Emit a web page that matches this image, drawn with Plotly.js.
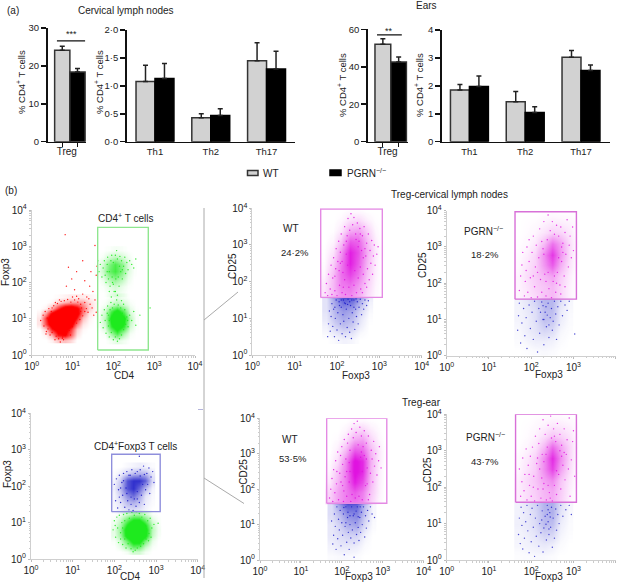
<!DOCTYPE html>
<html><head><meta charset="utf-8">
<script src="https://cdn.plot.ly/plotly-3.0.1.min.js"></script>
<style>html,body{margin:0;padding:0;background:#fff}</style></head>
<body><div id="chart"></div>
<script>
// ---- bar data ----
const thCats=["Th1","Th2","Th17"];
const cervTregMean=[24.1,18.4], cervTregErr=[1.1,0.9];
const cervThWT=[1.08,0.43,1.45], cervThWTErr=[0.29,0.07,0.32];
const cervThKO=[1.13,0.47,1.30], cervThKOErr=[0.27,0.12,0.32];
const earTregMean=[52,42.5], earTregErr=[3,2.7];
const earThWT=[1.85,1.43,3.02], earThWTErr=[0.2,0.37,0.25];
const earThKO=[1.98,1.05,2.55], earThKOErr=[0.37,0.2,0.2];
const decadeVals=[1,10,100,1000,10000];
const decadeText=["10<sup>0</sup>","10<sup>1</sup>","10<sup>2</sup>","10<sup>3</sup>","10<sup>4</sup>"];
// ---- flow panels: estimated [log10 x, log10 y] events ----
const c1RedDots=[[.22,.95],[.28,1.1],[.3,.8],[.33,1.2],[.36,.65],[.38,1.02],[.42,1.28],[.45,.55],[.48,1.2],[.5,.62],[.54,1.36],[.57,.42],[.6,.52],[.63,1.42],[.66,.45],[.7,.36],[.72,1.48],[.76,.5],[.78,.42],[.8,1.5],[.85,.58],[.88,1.53],[.92,.68],[.96,1.46],[1,.78],[1.05,1.52],[1.1,.88],[1.13,1.46],[1.18,.98],[1.2,1.4],[1.25,1.08],[1.3,1.45],[1.34,1.28],[1.38,1.18],[1.43,1.4],[1.48,1.3],[1.55,1.52],[1.58,1.18],[1.25,1.68],[1.05,1.8],[.85,1.9],[1.3,2.05],[.98,2.1],[1.42,1.9],[1.5,1.75],[1.58,2.2],[1.6,2.45],[1.45,2.3],[1.35,1.6],[1.1,2.3],[.9,2.42],[1.25,2.6],[1.55,3.02],[.82,3.32],[1.22,1.3],[1.15,1.55],[1.3,1.2],[1.1,1.62],[.35,.58],[.6,.7],[.5,1.3],[.4,.72],[1.4,1.55],[1.2,1.2],[1.52,1.1],[.75,.46],[.95,.55],[.68,1.52],[.58,1.45],[1.0,1.6]];
const c1GreenHiDots=[[1.65,2.3],[1.68,2.5],[1.72,2.15],[1.75,2.4],[1.78,2.6],[1.8,2.2],[1.82,2.0],[1.85,2.5],[1.86,2.7],[1.88,2.1],[1.9,2.3],[1.92,1.9],[1.94,2.6],[1.96,2.75],[1.97,2.15],[2,2.55],[2,1.95],[2.02,1.75],[2.05,2.75],[2.06,2.1],[2.08,2.88],[2.1,2.65],[2.12,2.15],[2.14,1.9],[2.16,2.72],[2.18,2.3],[2.2,2.6],[2.22,2.1],[2.25,2.45],[2.28,2.7],[2.3,2.25],[2.33,2.55],[2.36,2.35],[2.4,2.6],[2.45,2.5],[2.5,2.4],[2.55,2.65],[1.62,2.6],[1.9,1.75],[2.1,1.65],[1.98,2.0],[2.15,2.45],[2.22,2.35],[1.85,2.3]];
const c1GreenLoDots=[[1.68,.9],[1.72,1.1],[1.75,.75],[1.78,1.25],[1.8,.95],[1.82,.6],[1.85,1.15],[1.86,1.35],[1.88,.8],[1.9,.5],[1.92,1.25],[1.94,1.45],[1.95,.62],[1.98,1.3],[2,.42],[2.02,1.4],[2.05,.5],[2.08,1.52],[2.1,.38],[2.12,1.38],[2.15,.45],[2.18,1.3],[2.2,.55],[2.22,1.15],[2.25,.7],[2.28,1.25],[2.3,.85],[2.33,1.05],[2.36,.78],[2.4,1.1],[2.45,.95],[2.5,1.2],[2.55,.82],[2.65,1.1],[1.95,1.6],[2.05,1.75],[2.2,1.5],[1.9,.95],[1.88,1.1],[2.28,1.0],[2.35,.95],[2.25,1.4],[2.9,1.3]];
const c2BlueDots=[[2.0,2.05],[2.03,1.6],[2.05,2.2],[2.08,1.4],[2.1,1.9],[2.12,2.3],[2.15,1.55],[2.18,2.1],[2.2,1.75],[2.22,2.35],[2.25,1.42],[2.28,1.95],[2.3,2.4],[2.32,1.6],[2.35,1.35],[2.38,2.3],[2.4,1.5],[2.42,2.45],[2.45,1.33],[2.48,1.65],[2.5,2.35],[2.52,1.45],[2.55,1.85],[2.55,2.4],[2.6,1.55],[2.62,2.45],[2.65,1.75],[2.68,2.05],[2.7,2.55],[2.72,1.5],[2.75,1.9],[2.78,2.35],[2.8,2.05],[2.83,2.5],[2.85,1.8],[2.88,2.25],[2.92,2.4],[2.95,2.1],[2.6,2.82],[2.4,1.7],[2.3,1.8],[2.55,1.65],[2.62,2.28],[2.15,1.95],[2.22,2.15],[2.35,2.3],[2.12,1.7],[2.72,2.32]];
const c2GreenDots=[[1.97,.8],[2.0,1.05],[2.03,.6],[2.06,1.15],[2.08,.85],[2.1,.45],[2.12,1.2],[2.15,.72],[2.18,1.0],[2.2,.4],[2.22,1.22],[2.25,.55],[2.28,.3],[2.3,1.25],[2.33,.42],[2.36,1.12],[2.4,.28],[2.42,1.28],[2.45,.2],[2.48,1.2],[2.5,.24],[2.53,1.3],[2.55,.3],[2.6,1.25],[2.63,.35],[2.66,1.15],[2.7,.42],[2.73,1.22],[2.76,.55],[2.8,1.05],[2.83,.7],[2.86,1.12],[2.9,.85],[2.95,.95],[3.05,.98],[2.82,.5],[2.2,.85],[2.25,1.05],[2.75,.9],[2.15,.55],[2.88,.6],[2.02,.92]];
const c3MagDots=[[1.72,1.7],[1.75,1.95],[1.78,1.62],[1.8,2.2],[1.84,1.8],[1.86,2.45],[1.88,1.65],[1.9,2.1],[1.92,2.65],[1.95,1.75],[1.97,2.35],[1.98,2.9],[2,1.62],[2.02,2.55],[2.04,3.1],[2.06,1.9],[2.08,2.8],[2.1,3.3],[2.12,1.7],[2.14,2.25],[2.16,3.0],[2.18,3.5],[2.2,1.65],[2.22,2.75],[2.24,3.25],[2.26,3.72],[2.28,1.85],[2.3,3.4],[2.33,3.85],[2.35,1.62],[2.37,3.55],[2.4,3.75],[2.42,2.3],[2.44,3.3],[2.46,1.7],[2.48,3.6],[2.5,2.1],[2.52,3.1],[2.54,3.45],[2.56,1.8],[2.58,2.85],[2.6,3.25],[2.62,2.2],[2.64,3.5],[2.66,1.95],[2.68,2.7],[2.7,3.05],[2.72,2.35],[2.74,3.3],[2.76,2.05],[2.78,2.85],[2.8,2.5],[2.82,3.12],[2.84,2.2],[2.86,2.7],[2.88,3.0],[2.9,2.45],[2.94,2.75],[2.97,2.95],[2.6,1.7],[2.7,1.85],[1.95,2.15],[2.05,2.3],[2.12,2.55],[2.18,2.05],[2.55,2.4],[2.62,2.65],[2.5,2.95],[2.45,3.15],[2.15,1.85],[2.25,2.45],[2.4,1.9],[2.55,3.3],[2.22,3.1],[2.08,2.5],[2.66,2.9]];
const c3BlueDots=[[1.78,.5],[1.8,.85],[1.82,1.2],[1.84,.65],[1.86,1.05],[1.88,1.4],[1.9,.78],[1.92,1.25],[1.94,.5],[1.96,1.0],[1.98,1.5],[2,.68],[2.02,1.15],[2.04,.4],[2.06,1.35],[2.08,.85],[2.1,1.5],[2.12,.58],[2.14,1.1],[2.16,.92],[2.18,1.42],[2.2,.5],[2.22,1.25],[2.24,.75],[2.26,1.52],[2.28,1.0],[2.3,.62],[2.32,1.35],[2.34,.45],[2.36,1.15],[2.38,.9],[2.4,1.5],[2.42,.7],[2.44,1.25],[2.46,1.05],[2.48,1.45],[2.5,.85],[2.52,1.3],[2.55,1.52],[2.58,1.1],[2.6,1.4],[2.63,1.25],[2.66,1.5],[2.7,1.35],[2.74,1.48],[2.2,1.4],[2.1,1.3],[2.3,1.45],[2.15,1.5],[2.25,1.38],[2.05,1.45],[1.95,1.3],[2.35,1.5],[2.4,1.3],[2.45,1.53]];
const c4MagDots=[[1.72,1.8],[1.75,2.2],[1.78,2.5],[1.8,2.85],[1.84,1.65],[1.86,2.05],[1.88,2.35],[1.9,3.0],[1.92,1.75],[1.95,2.6],[1.98,2.15],[2,1.6],[2.02,2.85],[2.05,3.3],[2.08,1.9],[2.1,2.45],[2.12,3.05],[2.15,1.62],[2.18,2.7],[2.2,3.5],[2.22,2.1],[2.25,1.75],[2.28,2.95],[2.3,3.7],[2.32,2.25],[2.35,1.65],[2.38,3.2],[2.4,3.88],[2.42,1.85],[2.45,3.45],[2.48,1.6],[2.5,3.7],[2.52,2.05],[2.55,3.35],[2.58,1.75],[2.6,3.6],[2.62,2.3],[2.65,3.3],[2.68,1.95],[2.7,3.55],[2.72,2.6],[2.75,3.1],[2.78,2.2],[2.8,3.4],[2.82,2.8],[2.85,3.75],[2.88,2.45],[2.9,3.05],[2.92,3.3],[2.95,2.7],[2.98,3.55],[3.0,2.9],[2.7,1.7],[2.8,1.9],[2.6,2.0],[2.3,2.8],[2.35,2.05],[2.15,2.3],[2.65,2.7],[2.75,2.85],[1.95,3.2],[2.25,3.15],[2.55,2.2],[2.05,2.2],[2.72,3.0],[2.4,2.3]];
const c4BlueDots=[[1.68,.7],[1.7,1.1],[1.72,1.45],[1.75,.35],[1.78,.9],[1.82,1.3],[1.85,.55],[1.88,1.05],[1.9,.2],[1.95,1.4],[1.98,.75],[2.02,1.2],[2.05,.45],[2.08,1.5],[2.12,.95],[2.15,.1],[2.18,1.3],[2.2,.62],[2.25,1.48],[2.28,1.0],[2.3,.3],[2.33,1.2],[2.36,.8],[2.4,1.45],[2.42,.5],[2.45,1.05],[2.48,1.3],[2.5,.7],[2.52,.95],[2.55,1.5],[2.58,1.15],[2.6,.45],[2.63,1.35],[2.66,.85],[2.7,1.5],[2.74,1.1],[2.8,1.4],[2.85,1.25],[2.9,1.5],[2.35,1.35],[2.3,1.0],[2.42,.85],[2.22,1.2],[3.03,.6],[2.38,1.12],[2.28,1.38]];
const c5MagDots=[[1.7,1.75],[1.73,2.0],[1.76,2.3],[1.78,1.65],[1.8,2.55],[1.83,1.9],[1.85,2.8],[1.87,2.15],[1.9,3.05],[1.92,1.7],[1.95,2.45],[1.97,2.95],[2,3.2],[2.02,2.1],[2.04,1.65],[2.06,3.4],[2.1,2.85],[2.12,1.8],[2.14,3.3],[2.16,3.55],[2.2,3.1],[2.22,1.65],[2.24,3.7],[2.28,3.45],[2.3,3.85],[2.33,1.75],[2.35,3.6],[2.38,3.92],[2.4,3.25],[2.44,3.75],[2.48,3.5],[2.5,1.7],[2.52,3.2],[2.55,3.65],[2.58,2.1],[2.6,3.3],[2.62,2.6],[2.65,3.5],[2.68,1.85],[2.7,2.45],[2.72,3.1],[2.74,2.85],[2.76,2.2],[2.78,3.35],[2.8,2.65],[2.83,3.0],[2.86,2.4],[2.9,2.8],[2.92,3.2],[2.96,2.6],[2.65,1.7],[1.88,2.5],[2.02,2.7],[2.08,2.35],[2.18,2.2],[2.18,2.75],[2.46,2.9],[2.5,2.5],[2.55,2.95],[2.62,2.15],[2.12,2.5],[2.25,1.85],[2.42,1.8],[2.2,2.5],[2.6,2.85],[1.98,2.2],[2.05,1.95],[2.48,3.05]];
const c5BlueDots=[[1.75,1.1],[1.78,.45],[1.8,.7],[1.82,1.3],[1.84,.95],[1.86,.3],[1.88,1.5],[1.9,.6],[1.92,1.15],[1.94,.85],[1.96,1.4],[1.98,.4],[2,1.05],[2.02,.7],[2.04,1.3],[2.06,.15],[2.08,.95],[2.1,1.5],[2.12,.5],[2.14,1.2],[2.16,.78],[2.18,.3],[2.2,1.0],[2.22,.62],[2.24,1.5],[2.26,.85],[2.28,1.25],[2.3,.48],[2.33,1.05],[2.36,.72],[2.38,1.5],[2.4,.92],[2.42,.55],[2.44,1.2],[2.46,.78],[2.48,1.35],[2.5,1.0],[2.53,1.5],[2.56,.65],[2.58,1.25],[2.6,.9],[2.63,1.4],[2.66,1.1],[2.7,1.5],[2.74,1.3],[2.8,1.2],[2.3,.08],[2.15,1.35],[2.3,1.3],[2.35,1.38],[2.2,1.25],[2.4,1.22],[2.1,1.05],[2.45,1.5],[2.05,1.48]];
const c6MagDots=[[1.72,2.5],[1.75,1.75],[1.78,2.15],[1.8,2.8],[1.83,1.9],[1.85,2.35],[1.88,3.05],[1.9,1.65],[1.93,2.6],[1.96,2.05],[1.98,2.85],[2,1.75],[2.03,3.1],[2.06,2.3],[2.08,1.62],[2.1,3.4],[2.13,2.65],[2.16,1.95],[2.18,3.2],[2.2,3.6],[2.23,1.7],[2.26,2.9],[2.28,3.85],[2.3,2.1],[2.33,3.45],[2.36,1.65],[2.38,3.1],[2.4,3.7],[2.43,1.85],[2.46,3.95],[2.48,3.35],[2.5,1.62],[2.53,3.6],[2.55,2.05],[2.58,3.25],[2.6,1.8],[2.62,3.75],[2.65,2.35],[2.68,3.45],[2.7,1.95],[2.72,3.15],[2.75,2.6],[2.78,3.6],[2.8,2.2],[2.83,2.9],[2.85,3.3],[2.88,2.5],[2.9,3.9],[2.92,1.75],[2.95,2.75],[2.98,3.25],[3.0,3.55],[3.03,2.3],[2.2,2.5],[2.3,2.7],[2.05,2.0],[2.6,2.45],[2.72,2.85],[2.35,2.9],[2.15,2.8],[2.4,2.05],[2.68,3.0],[2.78,2.95],[2.55,3.4],[1.95,2.35],[2.25,2.25],[2.45,1.7],[2.28,1.95]];
const c6BlueDots=[[1.7,.7],[1.72,1.15],[1.74,.45],[1.76,1.45],[1.78,.95],[1.8,.3],[1.82,1.3],[1.84,.6],[1.87,1.05],[1.9,1.5],[1.92,.8],[1.95,.2],[1.98,1.25],[2,.5],[2.02,1.42],[2.05,.9],[2.08,.1],[2.1,1.15],[2.12,.65],[2.15,1.5],[2.18,.38],[2.2,1.0],[2.23,.75],[2.26,1.35],[2.28,.22],[2.3,.88],[2.33,1.2],[2.36,.55],[2.38,1.5],[2.4,1.05],[2.42,.7],[2.44,1.3],[2.46,.9],[2.48,1.45],[2.5,.35],[2.52,1.15],[2.55,.6],[2.58,1.4],[2.6,.82],[2.63,1.25],[2.66,1.0],[2.7,1.5],[2.75,1.2],[2.82,1.38],[2.9,1.5],[2.95,1.25],[2.4,1.38],[2.35,.98],[2.45,1.18],[2.38,1.25],[2.25,1.1],[2.42,.85]];
// ---- event density read by eye from each cloud (rows run low to high y) ----
const c1RedGx=[.2,.35,.5,.65,.8,.95,1.1,1.25,1.4,1.55], c1RedGy=[.4,.55,.7,.85,1,1.15,1.3,1.45,1.6];
const c1RedZ=[[0,0,.05,.2,.25,.15,0,0,0,0],[0,.05,.3,.9,1,.6,.1,0,0,0],[0,.2,.9,1.2,1.2,.8,.2,.03,0,0],[.1,.7,1.3,1.5,1.5,1.2,.5,.1,.02,0],[.1,.8,1.5,1.5,1.5,1.5,.9,.25,.05,0],[.05,.4,1.1,1.5,1.5,1.5,1.2,.5,.1,.02],[0,.05,.3,.8,1.3,1.4,1.1,.6,.2,.05],[0,0,.03,.15,.3,.4,.4,.35,.15,.05],[0,0,0,.02,.05,.08,.08,.08,.05,.02]];
const c1HiGx=[1.6,1.75,1.9,2.05,2.2,2.35,2.5], c1HiGy=[1.7,1.9,2.1,2.3,2.5,2.7,2.9];
const c1HiZ=[[0,0,.05,.1,.05,0,0],[0,.03,.12,.2,.1,.02,0],[0,.1,.35,.5,.3,.08,0],[.03,.25,.65,.85,.55,.15,.02],[.02,.2,.55,.8,.5,.15,.02],[0,.05,.2,.3,.2,.07,0],[0,0,.02,.05,.03,0,0]];
const c1LoGx=[1.65,1.8,1.95,2.1,2.25,2.4,2.55], c1LoGy=[.4,.6,.8,1,1.2,1.4,1.6];
const c1LoZ=[[0,0,.05,.12,.05,0,0],[0,.05,.4,.8,.35,.05,0],[.03,.2,.9,1.3,.9,.2,.02],[.05,.3,1.1,1.4,1.1,.3,.03],[.02,.2,.8,1.2,.7,.15,.02],[0,.05,.2,.35,.2,.05,0],[0,0,.05,.1,.05,0,0]];
const c2BlueGx=[2,2.15,2.3,2.45,2.6,2.75,2.9], c2BlueGy=[1.35,1.55,1.75,1.95,2.15,2.35,2.55];
const c2BlueZ=[[.03,.08,.15,.15,.12,.05,0],[.05,.12,.3,.35,.25,.08,.02],[.05,.2,.5,.65,.4,.12,.03],[.08,.3,.75,.9,.65,.3,.05],[.05,.22,.75,.9,.9,.7,.15],[.02,.08,.2,.3,.35,.3,.1],[0,0,.03,.05,.08,.05,.02]];
const c2GreenGx=[2,2.15,2.3,2.45,2.6,2.75,2.9,3.05], c2GreenGy=[.2,.35,.5,.65,.8,.95,1.1,1.25];
const c2GreenZ=[[0,0,.05,.2,.2,.05,0,0],[0,.1,.35,.7,.65,.25,.03,0],[.03,.2,.7,1.2,1.2,.6,.1,0],[.1,.4,1.2,1.5,1.5,1.1,.25,.03],[.12,.45,1.3,1.6,1.6,1.2,.3,.05],[.08,.35,1,1.5,1.5,1,.25,.03],[.03,.2,.6,.9,.9,.55,.12,.02],[0,.05,.2,.35,.35,.2,.03,0]];
const magGx=[1.7,1.9,2.1,2.3,2.5,2.7,2.9,3.05];
const c3MagGy=[1.57,1.6,1.9,2.2,2.5,2.8,3.1,3.4,3.7,3.95];
const c3MagZ=[[.12,.3,.45,.5,.35,.15,.03,0],[.12,.3,.45,.5,.35,.15,.03,0],[.1,.3,.55,.6,.45,.2,.05,0],[.05,.28,.6,.8,.6,.25,.07,0],[.02,.2,.55,.95,.7,.3,.08,0],[.01,.12,.45,.95,.75,.35,.1,.01],[0,.05,.25,.7,.65,.3,.08,0],[0,.01,.1,.35,.4,.2,.04,0],[0,0,.03,.12,.15,.06,.01,0],[0,0,0,.02,.02,0,0,0]];
const c3BlueGx=[1.75,1.95,2.15,2.35,2.55,2.75], c3BlueGy=[.4,.6,.8,1,1.2,1.4,1.55,1.57];
const c3BlueZ=[[0,.03,.06,.04,0,0],[.03,.1,.15,.12,.03,0],[.06,.2,.28,.22,.08,0],[.1,.28,.38,.3,.12,.01],[.12,.33,.45,.38,.18,.03],[.12,.4,.6,.55,.3,.05],[.12,.45,.75,.7,.4,.08],[.12,.45,.75,.7,.4,.08]];
const c4MagGy=[1.56,1.6,1.9,2.2,2.5,2.8,3.1,3.4,3.7,3.95];
const c4MagZ=[[.05,.1,.15,.25,.3,.18,.06,.01],[.05,.1,.15,.25,.3,.18,.06,.01],[.05,.12,.2,.25,.3,.18,.06,.01],[.05,.15,.22,.32,.4,.22,.08,.01],[.03,.12,.2,.45,.7,.35,.12,.02],[.02,.08,.18,.5,.85,.45,.15,.03],[.01,.04,.1,.3,.6,.4,.15,.04],[0,.02,.05,.12,.2,.18,.1,.03],[0,.01,.02,.05,.08,.07,.05,.02],[0,0,0,.01,.02,.01,.01,0]];
const c4BlueGx=[1.7,1.9,2.1,2.3,2.5,2.7,2.9], c4BlueGy=[.1,.4,.7,1,1.3,1.54,1.56];
const c4BlueZ=[[0,.01,.02,.03,.02,0,0],[.02,.05,.08,.08,.06,.02,0],[.03,.08,.12,.18,.15,.04,.01],[.05,.08,.14,.28,.25,.08,.02],[.05,.1,.15,.3,.3,.1,.03],[.06,.12,.2,.32,.32,.15,.04],[.06,.12,.2,.32,.32,.15,.04]];
const c5MagGy=[1.6,1.63,1.9,2.2,2.5,2.8,3.1,3.4,3.7,3.95];
const c5MagZ=[[.2,.4,.55,.6,.5,.2,.05,0],[.2,.4,.55,.6,.5,.2,.05,0],[.18,.4,.55,.7,.55,.25,.07,0],[.1,.32,.55,.95,.75,.3,.08,0],[.05,.25,.55,1.05,.9,.32,.08,0],[.02,.15,.5,1.05,.9,.35,.1,.01],[0,.08,.3,.7,.65,.3,.1,.01],[0,.02,.12,.35,.4,.18,.05,0],[0,0,.04,.15,.18,.08,.02,0],[0,0,0,.03,.03,.01,0,0]];
const c5BlueGx=[1.75,1.95,2.15,2.35,2.55,2.75], c5BlueGy=[.1,.4,.7,1,1.3,1.58,1.6];
const c5BlueZ=[[.02,.03,.03,.02,0,0],[.06,.1,.1,.08,.02,0],[.1,.15,.2,.2,.06,0],[.1,.2,.35,.4,.15,.02],[.15,.3,.5,.55,.25,.04],[.15,.45,.75,.7,.3,.04],[.15,.45,.75,.7,.3,.04]];
const c6MagGy=[1.585,1.61,1.9,2.2,2.5,2.8,3.1,3.4,3.7,3.97];
const c6MagZ=[[.08,.15,.2,.3,.35,.2,.06,.01],[.08,.15,.2,.3,.35,.2,.06,.01],[.08,.15,.22,.32,.38,.22,.08,.01],[.07,.17,.25,.4,.5,.25,.1,.02],[.04,.13,.22,.5,.8,.4,.15,.03],[.03,.1,.2,.5,.9,.5,.18,.04],[.01,.05,.12,.32,.65,.4,.18,.05],[0,.02,.06,.15,.25,.2,.12,.04],[0,.01,.03,.06,.1,.09,.06,.02],[0,0,.01,.02,.02,.02,.01,0]];
const c6BlueGx=[1.7,1.9,2.1,2.3,2.5,2.7,2.9], c6BlueGy=[.1,.4,.7,1,1.3,1.56,1.58];
const c6BlueZ=[[.01,.02,.03,.03,.02,0,0],[.04,.06,.08,.1,.07,.02,0],[.05,.08,.12,.2,.18,.05,.01],[.07,.1,.16,.3,.28,.08,.02],[.06,.1,.17,.32,.35,.12,.03],[.06,.12,.2,.34,.36,.15,.04],[.06,.12,.2,.34,.36,.15,.04]];
// ---- gates: [xmin,xmax,ymin,ymax] in log10 units ----
const gateC1=[1.616,2.856,.138,3.52], gateC2=[1.936,3.1,1.3,2.875], gateC3=[1.615,3.07,1.57,3.98];
const gateC4=[1.617,3.07,1.56,3.97], gateC5=[1.63,3.1,1.6,4.0], gateC6=[1.63,3.07,1.585,4.0];
const FONT='"Liberation Sans",Arial,sans-serif';
const W=623,H=582, X=p=>p/W, Y=p=>1-p/H;
const RED=[255,0,0],GRN=[30,234,30],BLU=[26,26,200],MAG=[224,18,224];
const css=c=>'rgb('+c.join(',')+')';
const WTFILL='#d2d2d2',EDGE='#333333';
const traces=[], annotations=[], shapes=[];
const layout={width:W,height:H,margin:{l:0,r:0,t:0,b:0},paper_bgcolor:'#fff',plot_bgcolor:'rgba(0,0,0,0)',showlegend:false,barmode:'group',font:{family:FONT,color:'#222',size:10},annotations,shapes};
function barAxes(n,xDom,yDom,yMax,ytv,ytt,xCfg){
  const s=n===1?'':n;
  layout['xaxis'+s]=Object.assign({domain:[X(xDom[0]),X(xDom[1])],anchor:'y'+s,showline:true,linecolor:'#111',linewidth:1.5,showgrid:false,zeroline:false,tickfont:{size:9.5,family:FONT,color:'#222'},ticklen:0},xCfg);
  layout['yaxis'+s]={domain:[Y(yDom[0]),Y(yDom[1])],anchor:'x'+s,range:[0,yMax],showline:true,linecolor:'#111',linewidth:1.5,ticks:'outside',ticklen:5,tickwidth:1.5,tickcolor:'#111',showgrid:false,zeroline:false,tickmode:'array',tickvals:ytv,ticktext:ytt,tickfont:{size:9.5,family:FONT,color:'#222'}};
}
function errBar(a){return {type:'data',array:a,symmetric:false,arrayminus:a.map(()=>0),color:'#222',thickness:1.5,width:2.5};}
function tregPanel(n,means,errs,sigY,sigX,label,labelY){
  const s=n===1?'':n;
  traces.push({type:'bar',x:[0,1],y:means,xaxis:'x'+s,yaxis:'y'+s,width:1,marker:{color:[WTFILL,'#000'],line:{color:EDGE,width:1.5}},error_y:errBar(errs),hoverinfo:'skip',offsetgroup:'a'});
  traces.push({type:'scatter',mode:'lines',x:sigX,y:[sigY,sigY],xaxis:'x'+s,yaxis:'y'+s,line:{color:'#111',width:1.2},hoverinfo:'skip'});
  annotations.push({xref:'x'+s,yref:'y'+s,x:(sigX[0]+sigX[1])/2,y:labelY,text:label,showarrow:false,font:{size:9,color:'#222'}});
}
function thPanel(n,wt,wtE,ko,koE){
  const s=n===1?'':n;
  traces.push({type:'bar',name:'WT',x:thCats,y:wt,xaxis:'x'+s,yaxis:'y'+s,marker:{color:WTFILL,line:{color:EDGE,width:1.5}},error_y:errBar(wtE),hoverinfo:'skip'});
  traces.push({type:'bar',name:'PGRN−/−',x:thCats,y:ko,xaxis:'x'+s,yaxis:'y'+s,marker:{color:'#000',line:{color:'#000',width:1.5}},error_y:errBar(koE),hoverinfo:'skip'});
}
const tregX=(range)=>({type:'linear',range,tickmode:'array',tickvals:[0,1],ticktext:['',''],ticks:'outside',ticklen:4,tickwidth:1.2,tickcolor:'#111',title:{text:'Treg',standoff:0,font:{size:10,family:FONT,color:'#222'}}});
const thX=(range)=>({type:'category',range,categoryorder:'array',categoryarray:thCats,ticks:''});
barAxes(1,[47.5,86],[141.7,28],30,[0,10,20,30],['0','10','20','30'],tregX([-.97,1.56]));
barAxes(2,[126.7,295],[141.7,30],2,[0,.5,1,1.5,2],['0·0','0·5','1·0','1·5','2·0'],thX([-.507,2.51]));
barAxes(3,[367.7,407.5],[141.7,29.3],60,[0,20,40,60],['0','20','40','60'],tregX([-.96,1.56]));
barAxes(4,[441.7,610],[141.7,30],4,[0,1,2,3,4],['0','1','2','3','4'],thX([-.497,2.52]));
layout.bargap=.32; layout.bargroupgap=0;
tregPanel(1,cervTregMean,cervTregErr,26.6,[-.35,1.5],'***',28.4);
thPanel(2,cervThWT,cervThWTErr,cervThKO,cervThKOErr);
tregPanel(3,earTregMean,earTregErr,57,[-.37,1.2],'**',59.3);
thPanel(4,earThWT,earThWTErr,earThKO,earThKOErr);
// flow panels
function pow10(a){return a.map(v=>Math.pow(10,v));}
function dots(n,pts,c,op){
  traces.push({type:'scatter',mode:'markers',x:pow10(pts.map(p=>p[0])),y:pow10(pts.map(p=>p[1])),xaxis:'x'+n,yaxis:'y'+n,marker:{color:css(c),size:1.4,opacity:op,line:{width:0}},hoverinfo:'skip'});
}
function haze(n,gx,gy,z,c){
  traces.push({type:'heatmap',x:pow10(gx),y:pow10(gy),z,xaxis:'x'+n,yaxis:'y'+n,zsmooth:'best',zmin:0,zmax:1,showscale:false,hoverinfo:'skip',
    colorscale:[[0,'rgba('+c.join(',')+',0)'],[1,'rgba('+c.join(',')+',1)']]});
}
function gate(n,g,color){
  traces.push({type:'scatter',mode:'lines',x:pow10([g[0],g[1],g[1],g[0],g[0]]),y:pow10([g[2],g[2],g[3],g[3],g[2]]),xaxis:'x'+n,yaxis:'y'+n,line:{color,width:1.4},hoverinfo:'skip'});
}
function flowAxes(n,xDom,yDom){
  const common={type:'log',range:[0,4],showline:true,linecolor:'#cfcfcf',linewidth:1,showgrid:false,zeroline:false,tickmode:'array',tickvals:decadeVals,ticktext:decadeText,ticks:'outside',ticklen:2,tickcolor:'#bbb',tickfont:{size:10,family:FONT,color:'#222'},minor:{dtick:'D1',ticks:'outside',ticklen:1.5,tickcolor:'#ccc',showgrid:false}};
  layout['xaxis'+n]=Object.assign({},common,{domain:[X(xDom[0]),X(xDom[1])],anchor:'y'+n});
  layout['yaxis'+n]=Object.assign({},common,{domain:[Y(yDom[0]),Y(yDom[1])],anchor:'x'+n});
}
flowAxes(5,[31.7,195],[355,210]);
flowAxes(6,[31,197.7],[559,413.3]);
flowAxes(7,[252.3,421.7],[355,208.3]);
flowAxes(8,[446.7,615.7],[355.7,210.7]);
flowAxes(9,[260,423.6],[560,418.3]);
flowAxes(10,[446.7,615.7],[560,414.3]);
haze(5,c1RedGx,c1RedGy,c1RedZ,RED);dots(5,c1RedDots,RED,.9);
haze(5,c1HiGx,c1HiGy,c1HiZ,GRN);dots(5,c1GreenHiDots,GRN,.9);
haze(5,c1LoGx,c1LoGy,c1LoZ,GRN);dots(5,c1GreenLoDots,GRN,.9);
gate(5,gateC1,'#8fe68f');
haze(6,c2BlueGx,c2BlueGy,c2BlueZ,BLU);dots(6,c2BlueDots,BLU,.9);
haze(6,c2GreenGx,c2GreenGy,c2GreenZ,GRN);dots(6,c2GreenDots,GRN,.9);
gate(6,gateC2,'#8f8fdc');
haze(7,magGx,c3MagGy,c3MagZ,MAG);dots(7,c3MagDots,MAG,.9);
haze(7,c3BlueGx,c3BlueGy,c3BlueZ,BLU);dots(7,c3BlueDots,BLU,.85);
gate(7,gateC3,'#e48ae4');
haze(8,magGx,c4MagGy,c4MagZ,MAG);dots(8,c4MagDots,MAG,.85);
haze(8,c4BlueGx,c4BlueGy,c4BlueZ,BLU);dots(8,c4BlueDots,BLU,.8);
gate(8,gateC4,'#d870d8');
haze(9,magGx,c5MagGy,c5MagZ,MAG);dots(9,c5MagDots,MAG,.9);
haze(9,c5BlueGx,c5BlueGy,c5BlueZ,BLU);dots(9,c5BlueDots,BLU,.85);
gate(9,gateC5,'#e48ae4');
haze(10,magGx,c6MagGy,c6MagZ,MAG);dots(10,c6MagDots,MAG,.85);
haze(10,c6BlueGx,c6BlueGy,c6BlueZ,BLU);dots(10,c6BlueDots,BLU,.8);
gate(10,gateC6,'#d870d8');
// texts
function txt(t,cx,cy,size,extra){annotations.push(Object.assign({xref:'paper',yref:'paper',x:X(cx),y:Y(cy),text:t,showarrow:false,xanchor:'center',yanchor:'middle',font:{size:size||10,family:FONT,color:'#222'}},extra||{}));}
const vert={textangle:-90};
const yBarTitle='% CD4<sup>+</sup> T cells';
txt(yBarTitle,21,82,9.5,vert);txt(yBarTitle,99,82,9.5,vert);txt(yBarTitle,342,85,9.5,vert);txt(yBarTitle,419,85,9.5,vert);
txt('(a)',13,10);txt('Cervical lymph nodes',126,10);txt('Ears',426,6);
txt('(b)',11,191);txt('Treg-cervical lymph nodes',449,195);txt('Treg-ear',421.5,402);
txt('CD4<sup>+</sup> T cells',125.7,218);txt('CD4<sup>+</sup>Foxp3 T cells',135,446);
txt('CD4',124,375);txt('CD4',130,576);
txt('Foxp3',5,272,10,vert);txt('Foxp3',7,474,10,vert);
txt('WT',290.7,229);txt('24·2%',295,252,9.5);txt('CD25',233,266,10,vert);txt('Foxp3',356,375);
txt('PGRN<sup>−/−</sup>',483,231);txt('18·2%',485,254,9.5);txt('CD25',423,265,10,vert);txt('Foxp3',549,374);
txt('WT',290,439);txt('53·5%',293.3,458,9.5);txt('CD25',242.7,472,10,vert);txt('Foxp3',359,576);
txt('PGRN<sup>−/−</sup>',485.7,437);txt('43·7%',485,461,9.5);txt('CD25',427,470,10,vert);txt('Foxp3',549,576);
// legend keys
function pxRect(x0,x1,y0,y1,fill,line){shapes.push({type:'rect',xref:'paper',yref:'paper',x0:X(x0),x1:X(x1),y0:Y(y1),y1:Y(y0),fillcolor:fill,line:{color:line,width:1.5}});}
function pxLine(x0,y0,x1,y1,c,w){shapes.push({type:'line',xref:'paper',yref:'paper',x0:X(x0),x1:X(x1),y0:Y(y0),y1:Y(y1),line:{color:c,width:w}});}
pxRect(247.5,258,170.5,175.5,WTFILL,EDGE);pxRect(330,341,170,175.5,'#000','#000');
txt('WT',270.5,173,10);txt('PGRN<sup>−/−</sup>',366,172.5,10);
// connector lines between the panels
pxLine(204,208,204,578,'#aaaaaa',1);pxLine(204,320,238,292,'#aaaaaa',1);pxLine(204,478,244,503.5,'#aaaaaa',1);pxLine(198,409.5,203,409.5,'#b4b4dc',1);
Plotly.newPlot('chart',traces,layout,{staticPlot:true,displayModeBar:false});
</script></body></html>
